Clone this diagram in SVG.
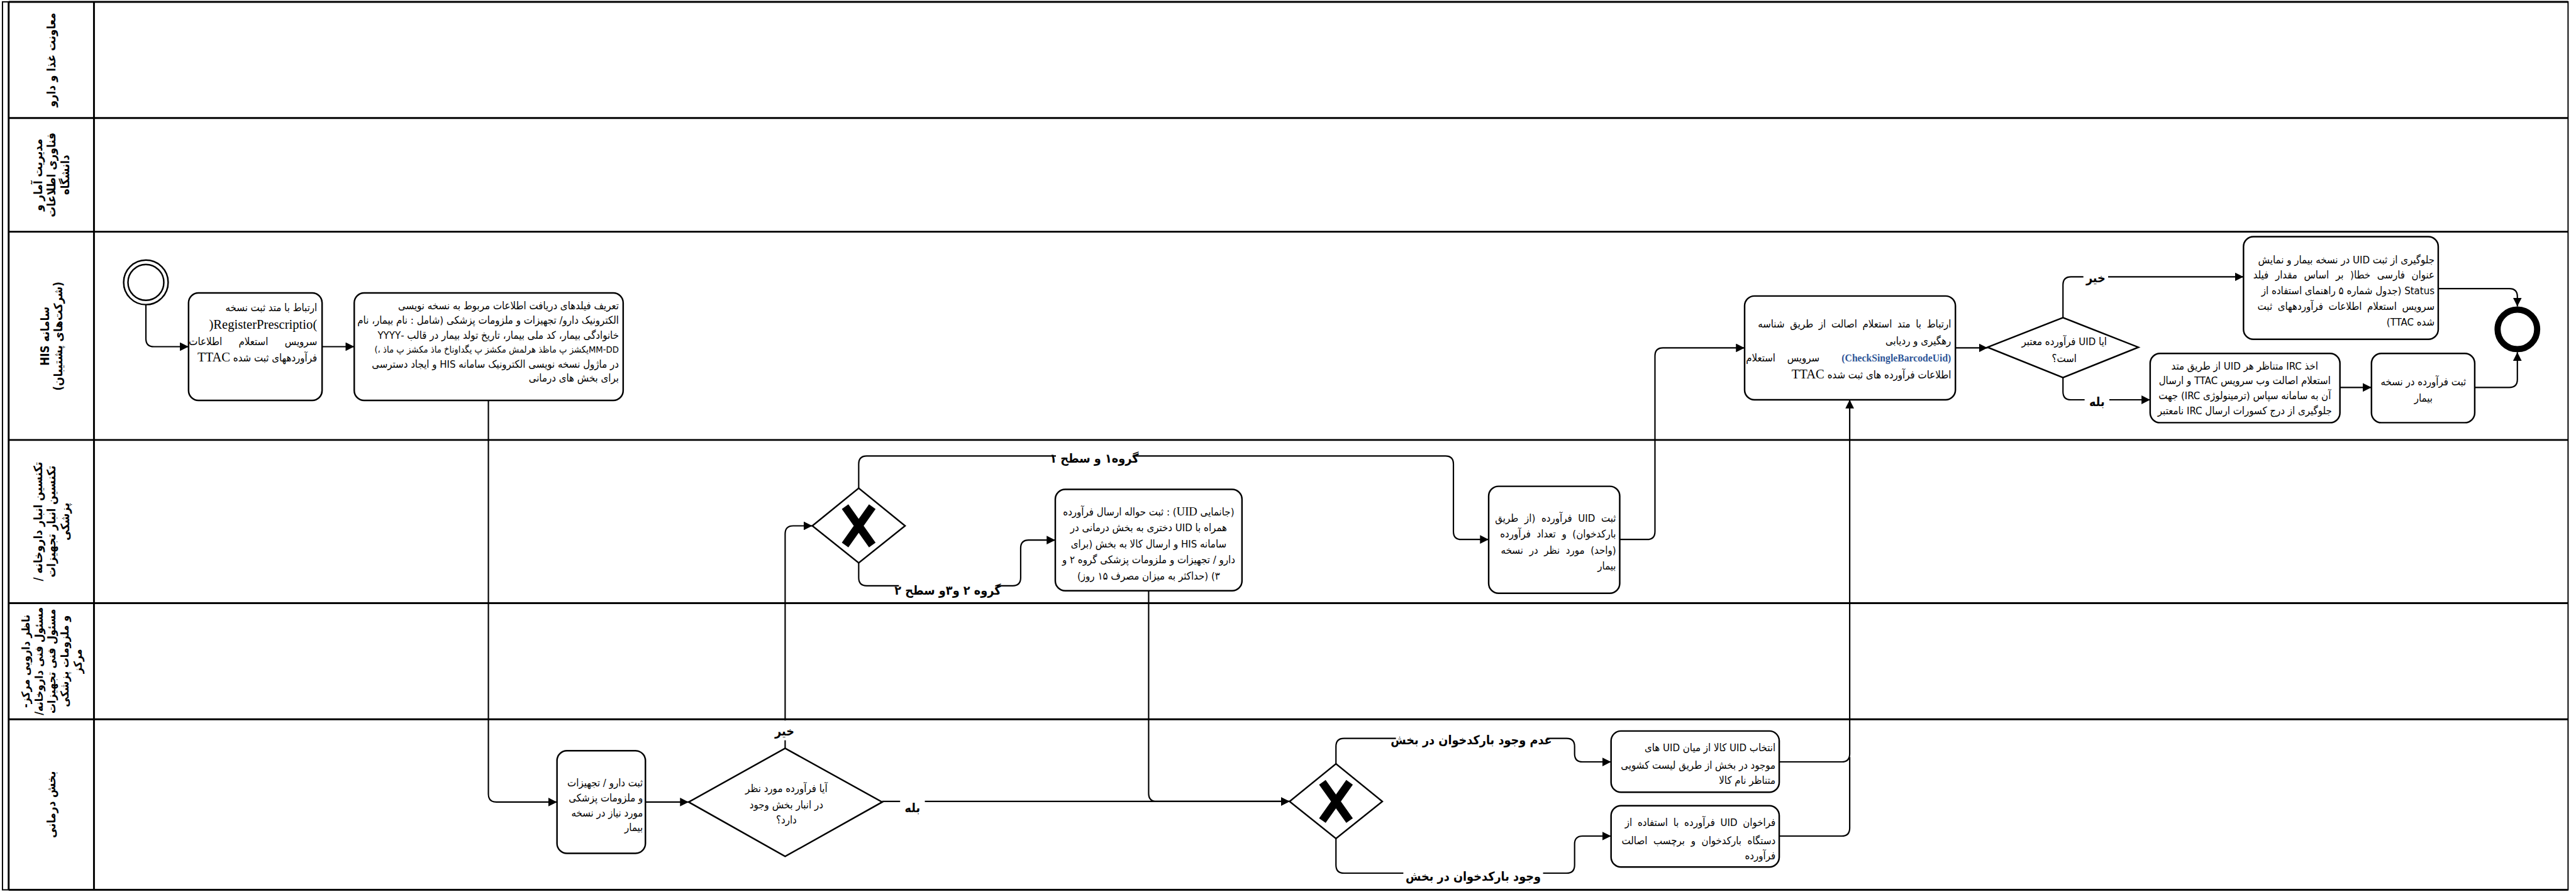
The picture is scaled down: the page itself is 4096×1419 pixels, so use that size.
<svg xmlns="http://www.w3.org/2000/svg" width="4096" height="1419" viewBox="0 0 4096 1419">
<defs>
<marker id="arr" viewBox="0 0 14 14" refX="14" refY="7" markerWidth="14" markerHeight="14" markerUnits="userSpaceOnUse" orient="auto"><path d="M0,0 L14,7 L0,14 z" fill="#000"/></marker>
<style>
.ln{stroke:#000;stroke-width:3;fill:none}
.box{fill:#fff;stroke:#000;stroke-width:2.5}
.gw{fill:#fff;stroke:#000;stroke-width:2.5}
.xm{stroke:#000;stroke-width:13;stroke-linecap:butt}
.c{fill:none;stroke:#000;stroke-width:2.2;stroke-linejoin:round}
.a{marker-end:url(#arr)}
.fa{font-family:"DejaVu Sans Condensed","DejaVu Sans",sans-serif;font-size:17px;fill:#000;direction:rtl}
.mid{text-anchor:middle}
.lat{font-family:"Liberation Serif",serif}
.lbl{font-family:"DejaVu Sans Condensed","DejaVu Sans",sans-serif;font-size:20px;font-weight:bold;fill:#000;direction:rtl;text-anchor:middle}
.lane{font-family:"DejaVu Sans Condensed","DejaVu Sans",sans-serif;font-size:19px;font-weight:bold;fill:#000;direction:rtl;text-anchor:middle}
.bg{fill:#fff}
</style>
</defs>
<rect width="4096" height="1419" fill="#fff"/>
<g transform="scale(0.983)">
<g id="pool">
<rect x="4" y="3" width="4150" height="1437" fill="none" stroke="#000" stroke-width="2"/>
<path class="ln" d="M14,3 V1440 M152,3 V1440 M14,3 H4154 M14,191 H4154 M14,375 H4154 M14,712 H4154 M14,976 H4154 M14,1164 H4154 M14,1440 H4154"/>
</g>
<g id="lane-labels">
<text class="lane" transform="translate(83,97) rotate(-90)" y="7">معاونت غذا و دارو</text>
<text class="lane" transform="translate(83,283) rotate(-90)"><tspan x="0" y="-15">مدیریت آمار و</tspan><tspan x="0" y="7">فناوری اطلاعات</tspan><tspan x="0" y="29">دانشگاه</tspan></text>
<text class="lane" transform="translate(83,544) rotate(-90)"><tspan x="0" y="-4">سامانه HIS</tspan><tspan x="0" y="18">(شرکت‌های پشتیبان)</tspan></text>
<text class="lane" transform="translate(83,844) rotate(-90)"><tspan x="0" y="-15">تکنسین انبار داروخانه /</tspan><tspan x="0" y="7">تکنسین انبار تجهیزات</tspan><tspan x="0" y="29">پزشکی</tspan></text>
<text class="lane" transform="translate(83,1070) rotate(-90)" style="font-size:18px"><tspan x="0" y="-35">ناظر دارویی مرکز-</tspan><tspan x="0" y="-14">مسئول فنی داروخانه/</tspan><tspan x="0" y="7">مسئول فنی تجهیزات</tspan><tspan x="0" y="28">و ملزومات پزشکی</tspan><tspan x="0" y="49">مرکز</tspan></text>
<text class="lane" transform="translate(83,1302) rotate(-90)" y="7">بخش درمانی</text>
</g>
<g id="connectors">
<path class="c a" d="M236,493 V548 Q236,561 249,561 H305"/>
<path class="c a" d="M521,561 H573"/>
<path class="c a" d="M790,648 V1285 Q790,1298 803,1298 H901"/>
<path class="c a" d="M1044,1298 H1114"/>
<path class="c a" d="M1270,1211 V864 Q1270,851 1283,851 H1314"/>
<path class="c a" d="M1427,1297 H2086"/>
<path class="c a" d="M1389,790 V751 Q1389,738 1402,738 H2338 Q2351,738 2351,751 V860 Q2351,873 2364,873 H2408"/>
<path class="c a" d="M1389,911 V935 Q1389,948 1402,948 H1638 Q1651,948 1651,935 V887 Q1651,874 1664,874 H1707"/>
<path class="c a" d="M1858,956 V1284 Q1858,1297 1871,1297 H2086"/>
<path class="c a" d="M2620,873 H2664 Q2677,873 2677,860 V576 Q2677,563 2690,563 H2822"/>
<path class="c a" d="M3163,563 H3215"/>
<path class="c a" d="M3337,514 V461 Q3337,448 3350,448 H3629"/>
<path class="c a" d="M3337,611 V634 Q3337,647 3350,647 H3478"/>
<path class="c a" d="M3785,627 H3836"/>
<path class="c a" d="M3944,467 H4059 Q4072,467 4072,480 V496"/>
<path class="c a" d="M4003,627 H4059 Q4072,627 4072,614 V570"/>
<path class="c a" d="M2161,1236 V1208 Q2161,1195 2174,1195 H2534 Q2547,1195 2547,1208 V1220 Q2547,1233 2560,1233 H2606"/>
<path class="c a" d="M2161,1357 V1400 Q2161,1413 2174,1413 H2534 Q2547,1413 2547,1400 V1366 Q2547,1353 2560,1353 H2606"/>
<path class="c a" d="M2878,1233 H2979 Q2992,1233 2992,1220 V647"/>
<path class="c" d="M2878,1353 H2979 Q2992,1353 2992,1340 V1225"/>
</g>
<g id="connector-labels">
<rect class="bg" x="1250" y="1166" width="38" height="32"/>
<text class="lbl" x="1269" y="1190">خیر</text>
<rect class="bg" x="1456" y="1290" width="40" height="30"/>
<text class="lbl" x="1476" y="1314">بله</text>
<rect class="bg" x="1708" y="726" width="124" height="32"/>
<text class="lbl" x="1770" y="749">گروه۱ و سطح ۱</text>
<rect class="bg" x="1454" y="938" width="158" height="32"/>
<text class="lbl" x="1533" y="962">گروه ۲ و۳و سطح ۲</text>
<rect class="bg" x="3370" y="434" width="40" height="32"/>
<text class="lbl" x="3390" y="457">خیر</text>
<rect class="bg" x="3372" y="634" width="40" height="32"/>
<text class="lbl" x="3392" y="657">بله</text>
<rect class="bg" x="2258" y="1181" width="244" height="32"/>
<text class="lbl" x="2380" y="1204">عدم وجود  بارکدخوان در بخش</text>
<rect class="bg" x="2270" y="1401" width="226" height="32"/>
<text class="lbl" x="2383" y="1425">وجود بارکدخوان در بخش</text>
</g>
<g id="start">
<circle cx="236" cy="457" r="36" fill="#fff" stroke="#000" stroke-width="2.5"/>
<circle cx="236" cy="457" r="29" fill="none" stroke="#000" stroke-width="2.5"/>
</g>
<g id="task-register">
<rect class="box" x="305" y="474" width="216" height="174" rx="16"/>
<text class="fa" x="513" y="504">ارتباط با متد ثبت نسخه</text>
<text class="lat" x="513" y="532" text-anchor="end" font-size="21">)RegisterPrescriptio(</text>
<text class="fa" x="513" y="558" word-spacing="22">سرویس استعلام اطلاعات</text>
<text class="fa" x="513" y="585">فرآوردههای ثبت شده <tspan class="lat" font-size="21">TTAC</tspan></text>
</g>
<g id="task-fields">
<rect class="box" x="573" y="474" width="435" height="174" rx="16"/>
<text class="fa" x="1001" y="501">تعریف فیلدهای دریافت اطلاعات مربوط به نسخه نویسی</text>
<text class="fa" x="1001" y="524">الکترونیک دارو/ تجهیزات و ملزومات پزشکی (شامل : نام بیمار، نام</text>
<text class="fa" x="1001" y="548">خانوادگی بیمار، کد ملی بیمار، تاریخ تولد بیمار در قالب -YYYY</text>
<text class="fa" x="1001" y="571" style="font-size:15px">MM-DDیکشز پ ماظذ هرلمش مکشز پ یگداوناخ ماذ مکشز پ ماذ ،)</text>
<text class="fa" x="1001" y="595">در ماژول نسخه نویسی الکترونیک سامانه HIS و ایجاد دسترسی</text>
<text class="fa" x="1001" y="618">برای بخش های درمانی</text>
</g>
<g id="task-ward-register">
<rect class="box" x="901" y="1215" width="143" height="166" rx="16"/>
<text class="fa" x="1040" y="1273">ثبت دارو / تجهیزات</text>
<text class="fa" x="1040" y="1297">و ملزومات پزشکی</text>
<text class="fa" x="1040" y="1321">مورد نیاز در نسخه</text>
<text class="fa" x="1040" y="1345">بیمار</text>
</g>
<g id="gw-stock">
<polygon class="gw" points="1114,1298 1270,1211 1427,1298 1270,1386"/>
<text class="fa mid" x="1272" y="1282">آیا فرآورده  مورد نظر</text>
<text class="fa mid" x="1272" y="1308">در انبار بخش وجود</text>
<text class="fa mid" x="1272" y="1333">دارد؟</text>
</g>
<g id="gw-group">
<polygon class="gw" points="1314,851 1389,790 1464,851 1389,911"/>
<path class="xm" d="M1367,820 L1411,882 M1411,820 L1367,882"/>
</g>
<g id="task-assign">
<rect class="box" x="1707" y="792" width="302" height="164" rx="16"/>
<text class="fa mid" x="1858" y="834">(جانمایی <tspan class="lat" font-size="19">UID</tspan>) : ثبت حواله ارسال فرآورده</text>
<text class="fa mid" x="1858" y="860">همراه با UID دختری  به بخش درمانی در</text>
<text class="fa mid" x="1858" y="886">سامانه HIS و ارسال کالا به بخش (برای</text>
<text class="fa mid" x="1858" y="912">دارو / تجهیزات و ملزومات پزشکی گروه ۲ و</text>
<text class="fa mid" x="1858" y="938">۳) (حداکثر به میزان مصرف ۱۵ روز)</text>
</g>
<g id="task-uid">
<rect class="box" x="2408" y="787" width="212" height="173" rx="16"/>
<text class="fa" x="2614" y="844" word-spacing="5">ثبت UID فرآورده (از طریق</text>
<text class="fa" x="2614" y="870" word-spacing="5">بارکدخوان) و تعداد فرآورده</text>
<text class="fa" x="2614" y="896" word-spacing="5">(واحد) مورد نظر در نسخه</text>
<text class="fa" x="2614" y="922">بیمار</text>
</g>
<g id="gw-barcode">
<polygon class="gw" points="2086,1297 2161,1236 2236,1297 2161,1357"/>
<path class="xm" d="M2139,1266 L2183,1328 M2183,1266 L2139,1328"/>
</g>
<g id="task-select">
<rect class="box" x="2606" y="1183" width="272" height="99" rx="16"/>
<text class="fa" x="2872" y="1216">انتخاب UID کالا از میان UID های</text>
<text class="fa" x="2872" y="1244">موجود در بخش از طریق لیست کشویی</text>
<text class="fa" x="2872" y="1269">متناظر نام کالا</text>
</g>
<g id="task-scan">
<rect class="box" x="2606" y="1304" width="272" height="99" rx="16"/>
<text class="fa" x="2872" y="1337" word-spacing="4">فراخوان UID فرآورده با استفاده از</text>
<text class="fa" x="2872" y="1366" word-spacing="5">دستگاه بارکدخوان و برچسب اصالت</text>
<text class="fa" x="2872" y="1391">فرآورده</text>
</g>
<g id="task-check">
<rect class="box" x="2822" y="479" width="341" height="168" rx="16"/>
<text class="fa" x="3156" y="530" word-spacing="4">ارتباط با متد استعلام اصالت از طریق شناسه</text>
<text class="fa" x="3156" y="557">رهگیری و ردیابی</text>
<text class="lat" x="3156" y="585" text-anchor="end" font-size="18" font-weight="bold" fill="#2E5597" textLength="177" lengthAdjust="spacingAndGlyphs">(CheckSingleBarcodeUid)</text>
<text class="fa mid" x="2917" y="585">سرویس</text>
<text class="fa mid" x="2848" y="585">استعلام</text>
<text class="fa" x="3156" y="612">اطلاعات فرآورده های ثبت شده <tspan class="lat" font-size="21">TTAC</tspan></text>
</g>
<g id="gw-valid">
<polygon class="gw" points="3215,562 3337,514 3459,562 3337,611"/>
<text class="fa mid" x="3339" y="559">ایا UID فرآورده معتبر</text>
<text class="fa mid" x="3339" y="586">است؟</text>
</g>
<g id="task-block">
<rect class="box" x="3629" y="383" width="315" height="166" rx="16"/>
<text class="fa" x="3938" y="426">جلوگیری از ثبت UID در نسخه بیمار و نمایش</text>
<text class="fa" x="3938" y="451" word-spacing="6">عنوان فارسی خطا( بر اساس مقدار فیلد</text>
<text class="fa" x="3938" y="476">Status (جدول شماره ۵ راهنمای استفاده از</text>
<text class="fa" x="3938" y="502" word-spacing="4">سرویس استعلام اطلاعات فرآوردههای ثبت</text>
<text class="fa" x="3938" y="527">شده TTAC)</text>
</g>
<g id="task-irc">
<rect class="box" x="3478" y="572" width="307" height="112" rx="16"/>
<text class="fa mid" x="3631" y="598">اخذ IRC متناظر هر UID از طریق متد</text>
<text class="fa mid" x="3631" y="622">استعلام اصالت وب سرویس TTAC و ارسال</text>
<text class="fa mid" x="3631" y="646">آن به سامانه سپاس (ترمینولوژی IRC) جهت</text>
<text class="fa mid" x="3631" y="670">جلوگیری از درج کسورات ارسال IRC نامعتبر</text>
</g>
<g id="task-record">
<rect class="box" x="3836" y="572" width="167" height="112" rx="16"/>
<text class="fa mid" x="3920" y="624">ثبت فرآورده در نسخه</text>
<text class="fa mid" x="3920" y="650">بیمار</text>
</g>
<g id="end">
<circle cx="4072" cy="533" r="32" fill="#fff" stroke="#000" stroke-width="10"/>
</g>
</g>
</svg>
